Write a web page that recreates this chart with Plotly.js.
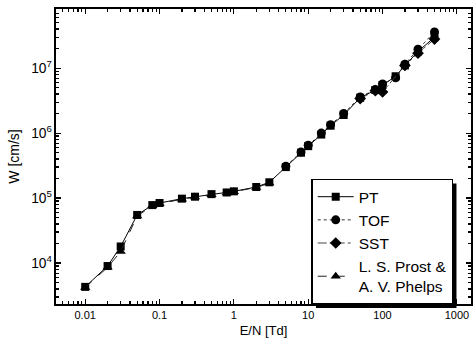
<!DOCTYPE html>
<html>
<head>
<meta charset="utf-8">
<script src="https://cdn.plot.ly/plotly-3.0.1.min.js"></script>
<style>html,body{margin:0;padding:0;background:#fff;}#chart{width:476px;height:351px;}</style>
</head>
<body>
<div id="chart"></div>
<script>
// E/N [Td] and drift velocity W [cm/s]
const ptX   = [0.01, 0.02, 0.03, 0.05, 0.08, 0.1, 0.2, 0.3, 0.5, 0.8, 1, 2, 3, 5, 8, 10, 15, 20, 30, 50, 80, 100, 150, 200, 300, 500];
const ptY   = [4.3e3, 9.0e3, 1.8e4, 5.5e4, 7.8e4, 8.4e4, 9.8e4, 1.05e5, 1.15e5, 1.22e5, 1.27e5, 1.48e5, 1.75e5, 3.0e5, 5.0e5, 6.3e5, 9.5e5, 1.3e6, 1.9e6, 3.5e6, 4.6e6, 5.5e6, 7.5e6, 1.1e7, 1.8e7, 3.0e7];
const tofX  = [5, 8, 10, 15, 20, 30, 50, 80, 100, 150, 200, 300, 500];
const tofY  = [3.1e5, 5.1e5, 6.5e5, 1.0e6, 1.35e6, 2.0e6, 3.6e6, 4.7e6, 5.7e6, 7.1e6, 1.15e7, 1.95e7, 3.6e7];
const sstX  = [50, 80, 100, 200, 300, 500];
const sstY  = [3.4e6, 4.5e6, 4.3e6, 1.1e7, 1.7e7, 2.8e7];
const lspX  = [0.01, 0.02, 0.03, 0.05, 0.08, 0.1, 0.2, 0.3, 0.5, 0.8, 1, 2, 3];
const lspY  = [4.2e3, 8.6e3, 1.5e4, 5.3e4, 7.6e4, 8.2e4, 9.6e4, 1.04e5, 1.13e5, 1.2e5, 1.25e5, 1.45e5, 1.7e5];
const names = ["PT", "TOF", "SST", "L. S. Prost &<br>A. V. Phelps"];
const xTickVals = [0.01, 0.1, 1, 10, 100, 1000];
const xTickText = ["0.01", "0.1", "1", "10", "100", "1000"];

const font = "Liberation Sans, Arial, sans-serif";
const traces = [
  {x: ptX, y: ptY, name: names[0], legendgroup: "a", mode: "lines+markers",
   line: {color: "#000", width: 1, dash: "solid"},
   marker: {symbol: "square", size: 8, color: "#000"}},
  {x: tofX, y: tofY, name: names[1], legendgroup: "b", mode: "lines+markers",
   line: {color: "#333", width: 1, dash: "dot"},
   marker: {symbol: "circle", size: 9, color: "#000"}},
  {x: sstX, y: sstY, name: names[2], legendgroup: "c", mode: "lines+markers",
   line: {color: "#444", width: 1, dash: "dashdot"},
   marker: {symbol: "diamond", size: 9, color: "#000"}},
  {x: lspX, y: lspY, name: names[3], legendgroup: "d", mode: "lines+markers",
   line: {color: "#222", width: 1, dash: "dash"},
   marker: {symbol: "triangle-up", size: 9, color: "#000"}}
];

const axisCommon = {
  type: "log", showline: true, linecolor: "#000", linewidth: 2, mirror: "ticks",
  ticks: "inside", ticklen: 5, tickwidth: 1.2, tickcolor: "#000",
  showgrid: false, zeroline: false,
  minor: {ticks: "inside", ticklen: 3, tickcolor: "#000", dtick: "D1", showgrid: false},
  tickfont: {family: font, size: 11, color: "#000"}
};

const layout = {
  width: 476, height: 351,
  margin: {l: 56, r: 5, t: 9, b: 47},
  paper_bgcolor: "#fff", plot_bgcolor: "#fff",
  showlegend: true,
  xaxis: Object.assign({}, axisCommon, {
    range: [-2.393, 3.19], tickvals: xTickVals, ticktext: xTickText,
    title: {text: "E/N [Td]", font: {family: font, size: 13, color: "#000"}, standoff: 6}
  }),
  yaxis: Object.assign({}, axisCommon, {
    range: [3.37, 7.91], dtick: 1, exponentformat: "power",
    title: {text: "W [cm/s]", font: {family: font, size: 14, color: "#000"}, standoff: 8}
  }),
  legend: {
    x: 0.615, y: 0.425, xanchor: "left", yanchor: "top",
    bgcolor: "#fff", bordercolor: "#000", borderwidth: 1.5,
    font: {family: font, size: 15.5, color: "#000"},
    traceorder: "grouped", tracegroupgap: 0, itemwidth: 36
  }
};

Plotly.newPlot("chart", traces, layout, {displayModeBar: false, staticPlot: true}).then(function (gd) {
  const bg = gd.querySelector(".legend .bg");
  if (!bg) return;
  const r = bg.getBoundingClientRect();
  const c = gd.getBoundingClientRect();
  const fs = gd._fullLayout._size;
  const off = 4;
  const px = v => (v - c.left - fs.l) / fs.w;
  const py = v => 1 - (v - c.top - fs.t) / fs.h;
  Plotly.relayout(gd, {shapes: [{
    type: "rect", xref: "paper", yref: "paper", layer: "above",
    x0: px(r.left + off), x1: px(r.right + off), y0: py(r.bottom + off), y1: py(r.top + off),
    fillcolor: "#000", line: {width: 0}
  }]});
});
</script>
</body>
</html>
